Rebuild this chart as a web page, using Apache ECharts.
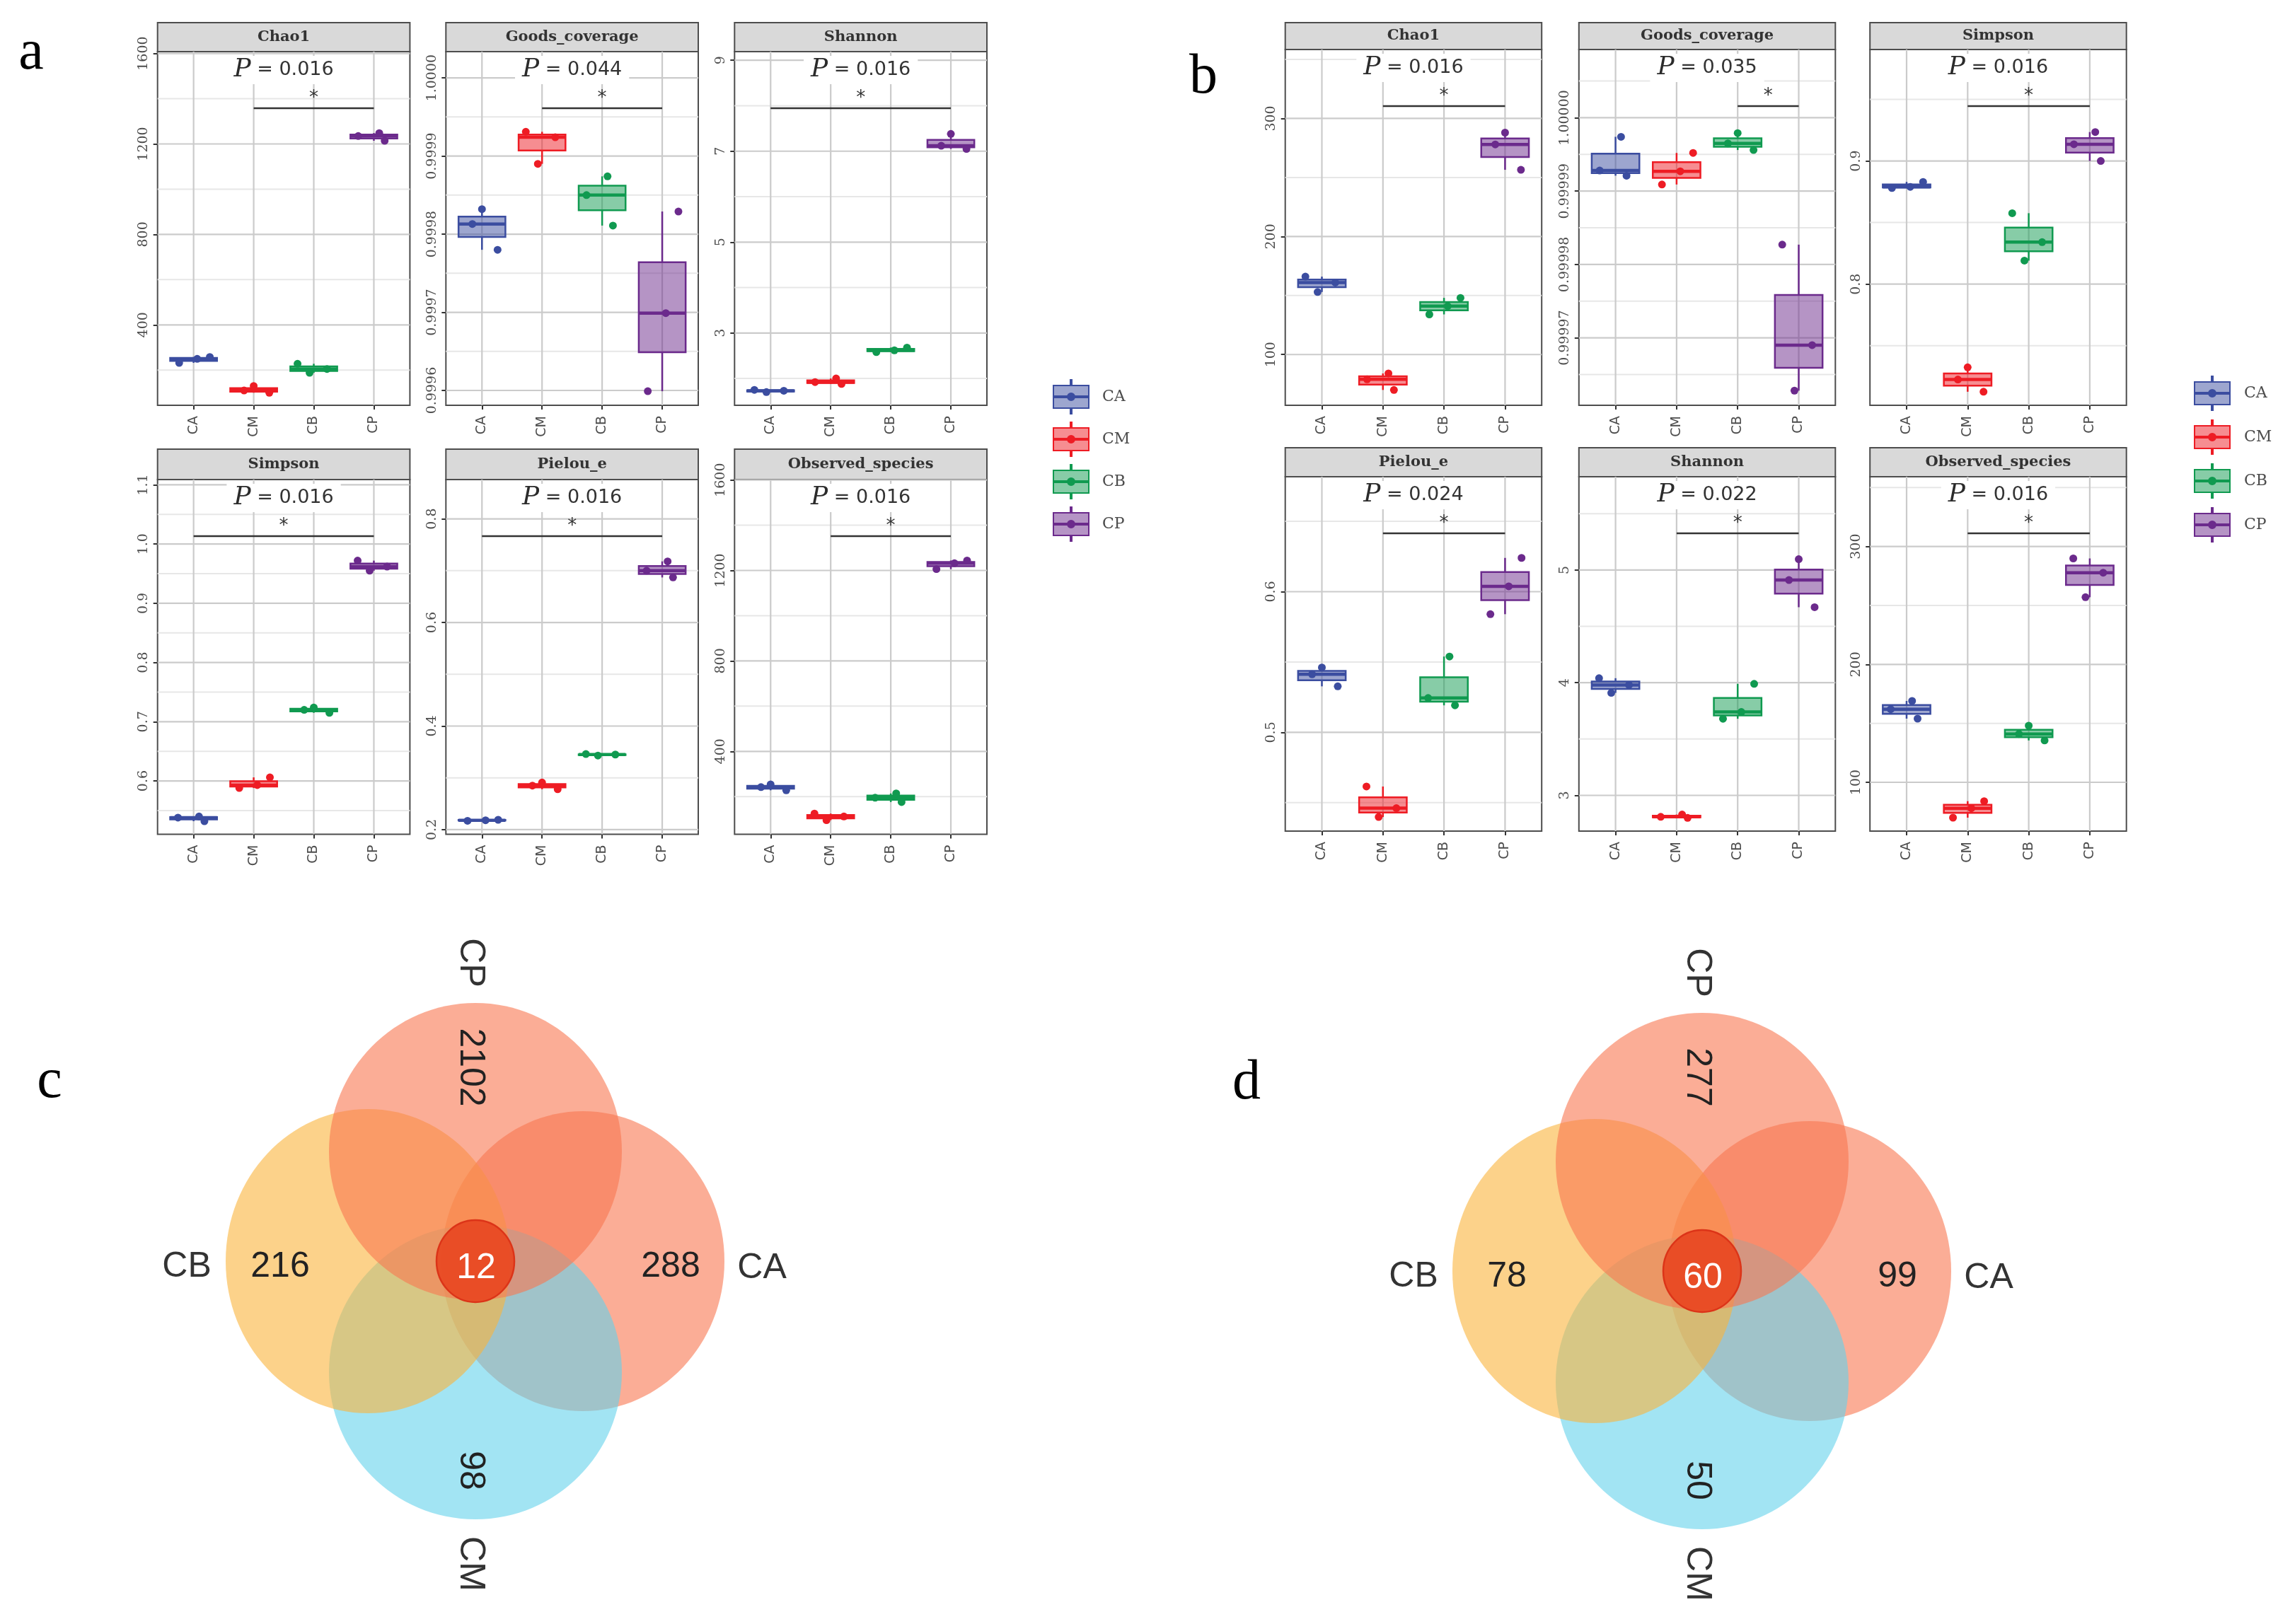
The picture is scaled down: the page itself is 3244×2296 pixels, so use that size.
<!DOCTYPE html>
<html>
<head>
<meta charset="utf-8">
<script src="https://cdn.jsdelivr.net/npm/echarts@6/dist/echarts.min.js"></script>
<style>html,body{margin:0;padding:0;background:#fff}#c{width:3244px;height:2296px}</style>
</head>
<body>
<div id="c"></div>
<script>
// ---------------- DATA ----------------
const groups = ['CA', 'CM', 'CB', 'CP'];

// Panel a (three samples per group, order CA, CM, CB, CP)
const aMetrics = ['Chao1', 'Goods_coverage', 'Shannon', 'Simpson', 'Pielou_e', 'Observed_species'];
const aChao1 = [[232, 250, 258], [100, 110, 130], [188, 205, 228], [1214, 1235, 1248]];
const aGoods = [[0.99978, 0.999813, 0.999832], [0.99989, 0.999924, 0.999931], [0.999811, 0.99985, 0.999874], [0.999599, 0.999699, 0.999829]];
const aShannon = [[1.70, 1.73, 1.75], [1.88, 1.92, 2.00], [2.58, 2.62, 2.68], [7.05, 7.12, 7.38]];
const aSimpson = [[0.532, 0.538, 0.540], [0.588, 0.593, 0.606], [0.715, 0.720, 0.724], [0.955, 0.962, 0.972]];
const aPielou = [[0.217, 0.218, 0.219], [0.278, 0.285, 0.291], [0.343, 0.345, 0.346], [0.687, 0.700, 0.718]];
const aObserved = [[228, 242, 254], [96, 112, 125], [176, 195, 214], [1206, 1232, 1244]];
const aPvals = ['0.016', '0.044', '0.016', '0.016', '0.016', '0.016'];
const aSigPairs = [[1, 3], [1, 3], [0, 3], [0, 3], [0, 3], [1, 3]];
const aChao1Ticks = [400, 800, 1200, 1600];
const aGoodsTicks = [0.9996, 0.9997, 0.9998, 0.9999, 1.0000];
const aShannonTicks = [3, 5, 7, 9];
const aSimpsonTicks = [0.6, 0.7, 0.8, 0.9, 1.0, 1.1];
const aPielouTicks = [0.2, 0.4, 0.6, 0.8];
const aObservedTicks = [400, 800, 1200, 1600];

// Panel b
const bMetrics = ['Chao1', 'Goods_coverage', 'Simpson', 'Pielou_e', 'Shannon', 'Observed_species'];
const bChao1 = [[153, 161, 166], [70, 79, 84], [134, 141, 148], [256.5, 278, 288]];
const bGoods = [[0.9999921, 0.9999928, 0.9999974], [0.9999909, 0.9999927, 0.9999952], [0.9999956, 0.9999965, 0.9999979], [0.9999628, 0.999969, 0.9999827]];
const bSimpson = [[0.878, 0.879, 0.883], [0.7126, 0.7225, 0.7324], [0.8191, 0.8341, 0.8576], [0.900, 0.9136, 0.9235]];
const bPielou = [[0.5327, 0.5413, 0.5461], [0.4398, 0.4461, 0.4615], [0.5192, 0.5244, 0.5539], [0.584, 0.6038, 0.624]];
const bShannon = [[3.91, 3.98, 4.04], [2.80, 2.81, 2.83], [3.68, 3.74, 3.99], [4.67, 4.911, 5.096]];
const bObserved = [[154, 162, 169], [70, 78, 84], [135.5, 141, 148], [257, 277.8, 289.9]];
const bPvals = ['0.016', '0.035', '0.016', '0.024', '0.022', '0.016'];
const bSigPairs = [[1, 3], [2, 3], [1, 3], [1, 3], [1, 3], [1, 3]];
const bChao1Ticks = [100, 200, 300];
const bGoodsTicks = [0.99997, 0.99998, 0.99999, 1.00000];
const bSimpsonTicks = [0.8, 0.9];
const bPielouTicks = [0.5, 0.6];
const bShannonTicks = [3, 4, 5];
const bObservedTicks = [100, 200, 300];

// Venn diagrams (c: panel c, d: panel d); order CA, CM, CB, CP
const vennSets = ['CA', 'CM', 'CB', 'CP'];
const vennCCounts = [288, 98, 216, 2102];
const vennCCore = 12;
const vennDCounts = [99, 50, 78, 277];
const vennDCore = 60;

// ---------------- STYLE / LAYOUT ----------------
const COLORS = ['#3B4DA0', '#EE1C24', '#109A50', '#6B2A8C'];
const BORDER = '#4d4d4d';
const MAJOR = '#CBCBCB';
const MINOR = '#E7E7E7';
const BOXW = 0.78;
const JIT = [[-0.24, 0.06, 0.27], [0.26, -0.16, 0.0], [-0.07, 0.22, -0.27], [0.18, -0.26, 0.09]];

const A_LAYOUT = {cols: [222.7, 630.3, 1038.3], w: 356.7,
  rows: [{stripTop: 32, top: 73, h: 500}, {stripTop: 635, top: 678, h: 501.5}]};
const B_LAYOUT = {cols: [1816.7, 2231.8, 2643.2], w: 362.5,
  rows: [{stripTop: 32, top: 70, h: 503}, {stripTop: 633, top: 674, h: 501}]};

const panelsA = [
  {name: aMetrics[0], data: aChao1, ticks: aChao1Ticks, p: aPvals[0], sig: aSigPairs[0], range: [44.5, 1608], dec: 0},
  {name: aMetrics[1], data: aGoods, ticks: aGoodsTicks, p: aPvals[1], sig: aSigPairs[1], range: [0.999581, 1.0000336], dec: 4},
  {name: aMetrics[2], data: aShannon, ticks: aShannonTicks, p: aPvals[2], sig: aSigPairs[2], range: [1.41, 9.19], dec: 0},
  {name: aMetrics[3], data: aSimpson, ticks: aSimpsonTicks, p: aPvals[3], sig: aSigPairs[3], range: [0.5099, 1.1089], dec: 1},
  {name: aMetrics[4], data: aPielou, ticks: aPielouTicks, p: aPvals[4], sig: aSigPairs[4], range: [0.191, 0.876], dec: 1},
  {name: aMetrics[5], data: aObserved, ticks: aObservedTicks, p: aPvals[5], sig: aSigPairs[5], range: [33.4, 1602], dec: 0}
];
const panelsB = [
  {name: bMetrics[0], data: bChao1, ticks: bChao1Ticks, p: bPvals[0], sig: bSigPairs[0], range: [57, 358.4], dec: 0},
  {name: bMetrics[1], data: bGoods, ticks: bGoodsTicks, p: bPvals[1], sig: bSigPairs[1], range: [0.9999608, 1.0000093], dec: 5},
  {name: bMetrics[2], data: bSimpson, ticks: bSimpsonTicks, p: bPvals[2], sig: bSigPairs[2], range: [0.7016, 0.9905], dec: 1},
  {name: bMetrics[3], data: bPielou, ticks: bPielouTicks, p: bPvals[3], sig: bSigPairs[3], range: [0.4298, 0.6817], dec: 1},
  {name: bMetrics[4], data: bShannon, ticks: bShannonTicks, p: bPvals[4], sig: bSigPairs[4], range: [2.683, 5.828], dec: 0},
  {name: bMetrics[5], data: bObserved, ticks: bObservedTicks, p: bPvals[5], sig: bSigPairs[5], range: [58.6, 359.2], dec: 0}
];

// Venn geometry in px units (y up), relative to the diagram centre; order CA, CM, CB, CP
const VENN_SHAPES = [
  {cx: 152, cy: 0, rx: 200, ry: 212, fill: 'rgba(248,118,80,0.6)', name: [405, -10], count: [276, -8], vertical: false},
  {cx: 0, cy: -157, rx: 207, ry: 208, fill: 'rgba(100,210,235,0.6)', name: [-7, -428], count: [-7, -296], vertical: true},
  {cx: -152, cy: 0, rx: 201, ry: 215, fill: 'rgba(250,180,60,0.6)', name: [-408, -8], count: [-276, -8], vertical: false},
  {cx: 0, cy: 155, rx: 207, ry: 210, fill: 'rgba(248,118,80,0.6)', name: [-7, 422], count: [-7, 274], vertical: true}
];
const VENN_CORE = {rx: 55, ry: 58, count: [1, -10]};

// ---------------- HELPERS ----------------
function rgba(hex, a) {
  const n = parseInt(hex.slice(1), 16);
  return 'rgba(' + (n >> 16) + ',' + ((n >> 8) & 255) + ',' + (n & 255) + ',' + a + ')';
}
function quant(s, p) {
  const h = (s.length - 1) * p, lo = Math.floor(h), hi = Math.min(lo + 1, s.length - 1);
  return s[lo] + (h - lo) * (s[hi] - s[lo]);
}

const grids = [], xAxes = [], yAxes = [], series = [], graphics = [];

function gridLines(cfg) {
  return function (params, api) {
    const [x0, y0] = api.coord([0.4, cfg.range[1]]);
    const [x1, y1] = api.coord([4.6, cfg.range[0]]);
    const ch = [];
    const step = cfg.ticks.length > 1 ? cfg.ticks[1] - cfg.ticks[0] : 1;
    for (let i = 0; i <= cfg.ticks.length; i++) {
      const v = cfg.ticks[0] - step / 2 + i * step;
      if (v > cfg.range[0] && v < cfg.range[1]) {
        const y = api.coord([1, v])[1];
        ch.push({type: 'line', shape: {x1: x0, y1: y, x2: x1, y2: y}, style: {stroke: MINOR, lineWidth: 2}});
      }
    }
    cfg.ticks.forEach(v => {
      const y = api.coord([1, v])[1];
      ch.push({type: 'line', shape: {x1: x0, y1: y, x2: x1, y2: y}, style: {stroke: MAJOR, lineWidth: 2.2}});
    });
    [1, 2, 3, 4].forEach(c => {
      const x = api.coord([c, cfg.range[0]])[0];
      ch.push({type: 'line', shape: {x1: x, y1: y0, x2: x, y2: y1}, style: {stroke: MAJOR, lineWidth: 2.2}});
    });
    return {type: 'group', children: ch};
  };
}

function boxRender(k, pIdx) {
  const col = COLORS[k];
  const jit = JIT[(k + pIdx) % JIT.length];
  return function (params, api) {
    const xc = api.value(0);
    const s = [api.value(1), api.value(2), api.value(3)].sort((a, b) => a - b);
    const q1 = quant(s, 0.25), med = quant(s, 0.5), q3 = quant(s, 0.75);
    const iqr = q3 - q1;
    const lo = Math.min.apply(null, s.filter(v => v >= q1 - 1.5 * iqr));
    const hi = Math.max.apply(null, s.filter(v => v <= q3 + 1.5 * iqr));
    const tl = api.coord([xc - BOXW / 2, q3]);
    const br = api.coord([xc + BOXW / 2, q1]);
    const cx = api.coord([xc, med])[0];
    const yMed = api.coord([xc, med])[1];
    const yLo = api.coord([xc, lo])[1];
    const yHi = api.coord([xc, hi])[1];
    const ch = [
      {type: 'line', shape: {x1: cx, y1: tl[1], x2: cx, y2: yHi}, style: {stroke: col, lineWidth: 2.5}},
      {type: 'line', shape: {x1: cx, y1: br[1], x2: cx, y2: yLo}, style: {stroke: col, lineWidth: 2.5}},
      {type: 'rect', shape: {x: tl[0], y: tl[1], width: br[0] - tl[0], height: Math.max(br[1] - tl[1], 0.5)},
        style: {fill: rgba(col, 0.5), stroke: col, lineWidth: 2.5}},
      {type: 'line', shape: {x1: tl[0], y1: yMed, x2: br[0], y2: yMed}, style: {stroke: col, lineWidth: 4.5}}
    ];
    s.forEach((v, i) => {
      const pt = api.coord([xc + jit[i], v]);
      ch.push({type: 'circle', shape: {cx: pt[0], cy: pt[1], r: 5.5}, style: {fill: col}});
    });
    return {type: 'group', children: ch};
  };
}

function annot(cfg) {
  return function (params, api) {
    const top = api.coord([1, cfg.range[1]])[1];
    const left = api.coord([0.4, cfg.range[1]])[0];
    const right = api.coord([4.6, cfg.range[1]])[0];
    const xi = api.coord([cfg.sig[0] + 1, cfg.range[1]])[0];
    const xj = api.coord([cfg.sig[1] + 1, cfg.range[1]])[0];
    return {type: 'group', children: [
      {type: 'line', shape: {x1: xi, y1: top + 80, x2: xj, y2: top + 80}, style: {stroke: '#333', lineWidth: 2.5}},
      {type: 'text', x: (xi + xj) / 2, y: top + 66,
        style: {text: '*', font: '26px "DejaVu Sans"', fill: '#333', align: 'center', verticalAlign: 'middle'}},
      {type: 'text', x: (left + right) / 2, y: top + 26,
        style: {text: '{p|P} = ' + cfg.p, rich: {p: {font: 'italic 36px "DejaVu Serif"', fill: '#2b2b2b'}},
          font: '27px "DejaVu Sans"', fill: '#333', align: 'center', verticalAlign: 'middle',
          backgroundColor: '#fff', padding: [2, 10]}}
    ]};
  };
}

function addPanel(cfg, left, width, row, pIdx) {
  const gi = grids.length;
  grids.push({left: left, top: row.top, width: width, height: row.h, show: true, borderColor: BORDER, borderWidth: 2,
    backgroundColor: '#fff', containLabel: false, outerBoundsMode: 'none'});
  xAxes.push({gridIndex: gi, type: 'value', min: 0.4, max: 4.6, axisLine: {show: false}, splitLine: {show: false},
    axisTick: {show: true, customValues: [1, 2, 3, 4], length: 6, lineStyle: {color: '#333', width: 2}},
    axisLabel: {customValues: [1, 2, 3, 4], formatter: v => groups[Math.round(v) - 1], rotate: 90, margin: 15,
      fontFamily: 'DejaVu Sans', fontSize: 19, color: '#4d4d4d'}});
  yAxes.push({gridIndex: gi, type: 'value', min: cfg.range[0], max: cfg.range[1], axisLine: {show: false}, splitLine: {show: false},
    axisTick: {show: true, customValues: cfg.ticks, length: 6, lineStyle: {color: '#333', width: 2}},
    axisLabel: {customValues: cfg.ticks, formatter: v => Number(v).toFixed(cfg.dec), rotate: 90, margin: 10,
      fontFamily: 'DejaVu Serif', fontSize: 19, color: '#4d4d4d'}});
  series.push({type: 'custom', xAxisIndex: gi, yAxisIndex: gi, z: 1, silent: true,
    data: [[1, cfg.range[0]]], renderItem: gridLines(cfg)});
  series.push({type: 'custom', xAxisIndex: gi, yAxisIndex: gi, z: 2, silent: true,
    data: [[1, cfg.range[0]]], renderItem: annot(cfg)});
  cfg.data.forEach((vals, k) => {
    series.push({type: 'custom', name: groups[k], xAxisIndex: gi, yAxisIndex: gi, z: 3,
      data: [[k + 1].concat(vals)], encode: {x: 0, y: [1, 2, 3]},
      itemStyle: {color: rgba(COLORS[k], 0.5), borderColor: COLORS[k], borderWidth: 2},
      renderItem: boxRender(k, pIdx)});
  });
  graphics.push({type: 'rect', shape: {x: left, y: row.stripTop, width: width, height: row.top - row.stripTop},
    style: {fill: '#D9D9D9', stroke: BORDER, lineWidth: 2}});
  graphics.push({type: 'text', x: left + width / 2, y: (row.stripTop + row.top) / 2,
    style: {text: cfg.name, font: 'bold 21px "DejaVu Serif"', fill: '#333', align: 'center', verticalAlign: 'middle'}});
}

panelsA.forEach((cfg, i) => addPanel(cfg, A_LAYOUT.cols[i % 3], A_LAYOUT.w, A_LAYOUT.rows[Math.floor(i / 3)], i));
panelsB.forEach((cfg, i) => addPanel(cfg, B_LAYOUT.cols[i % 3], B_LAYOUT.w, B_LAYOUT.rows[Math.floor(i / 3)], i + 2));

function addVenn(counts, core, center) {
  const gi = grids.length;
  grids.push({left: center[0] - 500, top: center[1] - 500, width: 1000, height: 1000, show: false, outerBoundsMode: 'none'});
  xAxes.push({gridIndex: gi, type: 'value', min: -500, max: 500, show: false});
  yAxes.push({gridIndex: gi, type: 'value', min: -500, max: 500, show: false});
  const data = vennSets.map((s, i) => [i, counts[i]]).concat([[4, core]]);
  series.push({type: 'custom', xAxisIndex: gi, yAxisIndex: gi, z: 1, silent: true, data: data,
    renderItem: function (params, api) {
      const i = api.value(0);
      if (i === 4) {
        const c = api.coord([0, 0]); const sz = api.size([VENN_CORE.rx, VENN_CORE.ry]);
        return {type: 'ellipse', shape: {cx: c[0], cy: c[1], rx: sz[0], ry: sz[1]},
          style: {fill: 'rgba(232,72,34,0.92)', stroke: '#DC3418', lineWidth: 2.5}};
      }
      const g = VENN_SHAPES[i];
      const c = api.coord([g.cx, g.cy]); const sz = api.size([g.rx, g.ry]);
      return {type: 'ellipse', shape: {cx: c[0], cy: c[1], rx: sz[0], ry: sz[1]}, style: {fill: g.fill}};
    }});
  series.push({type: 'custom', xAxisIndex: gi, yAxisIndex: gi, z: 2, silent: true, data: data,
    renderItem: function (params, api) {
      const i = api.value(0);
      const cnt = api.value(1);
      if (i === 4) {
        const p = api.coord(VENN_CORE.count);
        return {type: 'text', x: p[0], y: p[1], style: {text: String(cnt), font: '50px "Liberation Sans"', fill: '#fff',
          align: 'center', verticalAlign: 'middle'}};
      }
      const g = VENN_SHAPES[i];
      const pn = api.coord(g.name), pc = api.coord(g.count);
      const rot = g.vertical ? -Math.PI / 2 : 0;
      return {type: 'group', children: [
        {type: 'text', x: pn[0], y: pn[1], rotation: rot, style: {text: vennSets[i], font: '50px "Liberation Sans"', fill: '#333',
          align: 'center', verticalAlign: 'middle'}},
        {type: 'text', x: pc[0], y: pc[1], rotation: rot, style: {text: String(cnt), font: '50px "Liberation Sans"', fill: '#222',
          align: 'center', verticalAlign: 'middle'}}
      ]};
    }});
}
addVenn(vennCCounts, vennCCore, [672, 1783]);
addVenn(vennDCounts, vennDCore, [2406, 1797]);

// panel letters
[['a', 44, 76], ['b', 1701, 110], ['c', 70, 1530], ['d', 1762, 1532]].forEach(l => {
  graphics.push({type: 'text', x: l[1], y: l[2], style: {text: l[0], font: '80px "Liberation Serif"', fill: '#000',
    align: 'center', verticalAlign: 'middle'}});
});

const LEG_ICON = 'path://M24,0L26,0L26,8L24,8Z M0,8L50,8L50,40L0,40Z M24,40L26,40L26,48L24,48Z M0,23L50,23L50,25L0,25Z ' +
  'M20,24A5,5,0,1,0,30,24A5,5,0,1,0,20,24Z M22,24A3,3,0,1,0,28,24A3,3,0,1,0,22,24Z M23.5,24A1.5,1.5,0,1,0,26.5,24A1.5,1.5,0,1,0,23.5,24Z';
const legendText = {fontFamily: 'DejaVu Serif', fontSize: 22, color: '#4d4d4d', padding: [0, 0, 0, 14]};

const option = {
  animation: false,
  backgroundColor: '#fff',
  grid: grids,
  xAxis: xAxes,
  yAxis: yAxes,
  legend: [
    {data: groups, orient: 'vertical', left: 1483, top: 531, itemWidth: 50, itemHeight: 48, itemGap: 10,
      icon: LEG_ICON, textStyle: legendText, selectedMode: false},
    {data: groups, orient: 'vertical', left: 3096, top: 526, itemWidth: 52, itemHeight: 48, itemGap: 12,
      icon: LEG_ICON, textStyle: legendText, selectedMode: false}
  ],
  graphic: {elements: graphics},
  series: series
};

const chart = echarts.init(document.getElementById('c'), null, {width: 3244, height: 2296});
chart.setOption(option);
</script>
</body>
</html>
